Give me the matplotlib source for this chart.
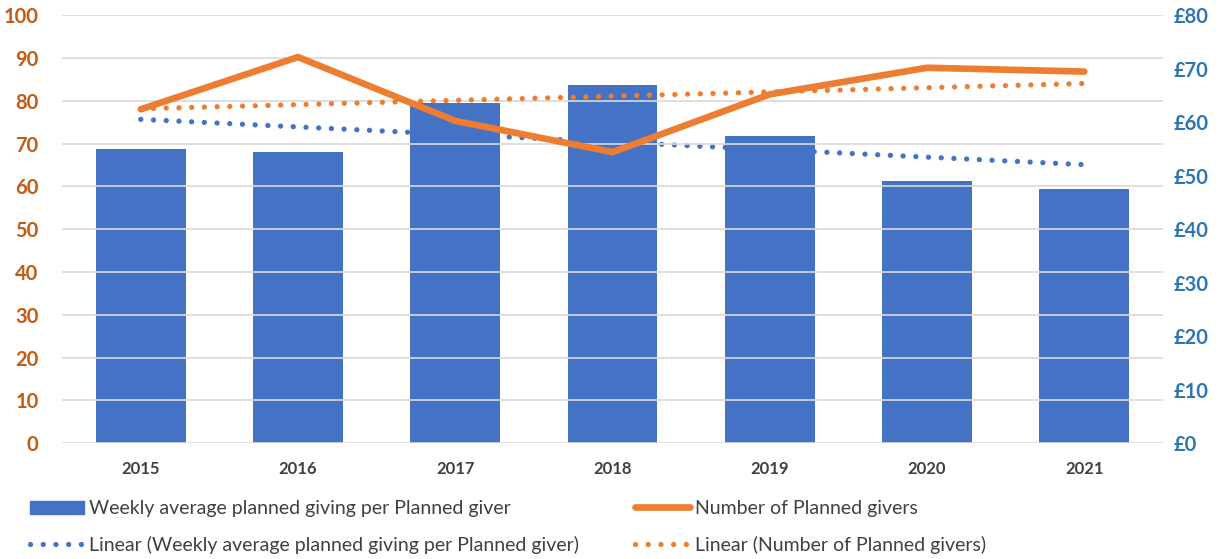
import numpy as np
import matplotlib.pyplot as plt
from matplotlib.lines import Line2D
from matplotlib.patches import Patch

years = ['2015', '2016', '2017', '2018', '2019', '2020', '2021']
weekly_avg = [55.0, 54.5, 63.5, 67.0, 57.5, 49.0, 47.5]      # £, right axis
num_givers = [78.0, 90.2, 75.3, 68.0, 81.5, 87.7, 86.8]      # left axis

blue = '#4472C4'
orange = '#ED7D31'
dots = (0, (0.01, 2.4))

plt.rcParams['font.family'] = ['Lato', 'DejaVu Sans']

fig = plt.figure(figsize=(12.19, 5.59), dpi=100)
ax = fig.add_axes([0.051, 0.207, 0.903, 0.766])
ax2 = ax.twinx()

x = np.arange(len(years))

# trend lines (linear fits of each series)
fit_w = np.polyval(np.polyfit(x, weekly_avg, 1), x)
fit_n = np.polyval(np.polyfit(x, num_givers, 1), x)

ax2.bar(x, weekly_avg, width=0.57, color=blue, zorder=2)
ax2.plot(x, fit_w, color=blue, lw=3.8, linestyle=dots,
         dash_capstyle='round', zorder=3)
ax2.set_ylim(0, 80)
ax2.set_yticks(range(0, 81, 10))
ax2.set_yticklabels(['£{}'.format(v) for v in range(0, 81, 10)])

# put the left axis series on top of the bars
ax.set_zorder(ax2.get_zorder() + 1)
ax.patch.set_visible(False)
ax.plot(x, num_givers, color=orange, lw=4.8, solid_capstyle='round',
        solid_joinstyle='miter', zorder=4)
ax.plot(x, fit_n, color=orange, lw=3.8, linestyle=dots,
        dash_capstyle='round', zorder=3)
ax.set_ylim(0, 100)
ax.set_yticks(range(0, 101, 10))
ax.set_xlim(-0.5, len(years) - 0.5)
ax.set_xticks(x)
ax.set_xticklabels(years)

ax.grid(axis='y', color='#D9D9D9', lw=1.2, zorder=0)
ax.set_axisbelow(True)

for a in (ax, ax2):
    for s in a.spines.values():
        s.set_visible(False)
    a.tick_params(length=0)

ax.tick_params(axis='y', labelcolor='#C55A11', labelsize=14.5, pad=17)
ax2.tick_params(axis='y', labelcolor='#2E75B6', labelsize=14.5, pad=8)
ax.tick_params(axis='x', labelcolor='#404040', labelsize=12, pad=13)
for lab in ax.get_yticklabels() + ax2.get_yticklabels() + ax.get_xticklabels():
    lab.set_fontweight('bold')

handles = [
    Patch(color=blue),
    Line2D([], [], color=orange, lw=4.8, solid_capstyle='round'),
    Line2D([], [], color=blue, lw=3.8, linestyle=dots, dash_capstyle='round'),
    Line2D([], [], color=orange, lw=3.8, linestyle=dots, dash_capstyle='round'),
]
labels = [
    'Weekly average planned giving per Planned giver',
    'Number of Planned givers',
    'Linear (Weekly average planned giving per Planned giver)',
    'Linear (Number of Planned givers)',
]
# row-major order with 2 columns
order = [0, 2, 1, 3]
fig.legend([handles[i] for i in order], [labels[i] for i in order],
           ncol=2, loc='lower left', bbox_to_anchor=(0.01, -0.022),
           frameon=False, fontsize=14, labelcolor='#404040',
           handlelength=2.8, handletextpad=0.25, columnspacing=2.9,
           labelspacing=0.95)

fig.savefig('out.png', dpi=100)
